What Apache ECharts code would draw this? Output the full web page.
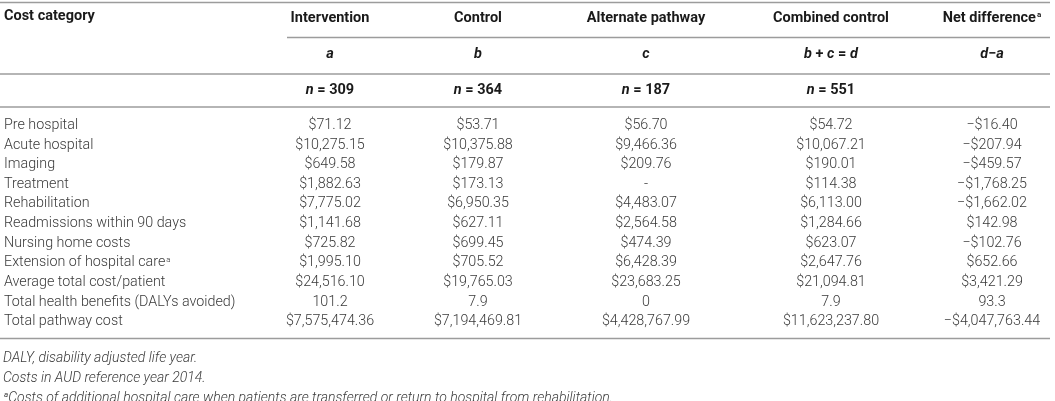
<!DOCTYPE html>
<html>
<head>
<meta charset="utf-8">
<script src="https://cdn.jsdelivr.net/npm/echarts@6/dist/echarts.min.js"></script>
<style>
  html, body { margin: 0; padding: 0; background: #fff; }
  #chart { width: 1055px; height: 401px; }
</style>
</head>
<body>
<div id="chart"></div>
<script>
// Table data
const COLUMNS = ['Intervention', 'Control', 'Alternate pathway', 'Combined control', 'Net difference']
const COLUMN_KEYS = ['a', 'b', 'c', 'b + c = d', 'd\u2212a']
const SAMPLE_SIZES = [309, 364, 187, 551, null]
const CATEGORIES = [
  'Pre hospital',
  'Acute hospital',
  'Imaging',
  'Treatment',
  'Rehabilitation',
  'Readmissions within 90 days',
  'Nursing home costs',
  'Extension of hospital care',
  'Average total cost/patient',
  'Total health benefits (DALYs avoided)',
  'Total pathway cost',
]
const INTERVENTION = [71.12, 10275.15, 649.58, 1882.63, 7775.02, 1141.68, 725.82, 1995.10, 24516.10, 101.2, 7575474.36]
const CONTROL = [53.71, 10375.88, 179.87, 173.13, 6950.35, 627.11, 699.45, 705.52, 19765.03, 7.9, 7194469.81]
const ALTERNATE = [56.70, 9466.36, 209.76, null, 4483.07, 2564.58, 474.39, 6428.39, 23683.25, 0, 4428767.99]
const COMBINED = [54.72, 10067.21, 190.01, 114.38, 6113.00, 1284.66, 623.07, 2647.76, 21094.81, 7.9, 11623237.80]
const NET_DIFF = [-16.40, -207.94, -459.57, -1768.25, -1662.02, 142.98, -102.76, 652.66, 3421.29, 93.3, -4047763.44]
const NOTE_ROWS = ['Extension of hospital care', 'Net difference']
const FOOTNOTES = [
  'DALY, disability adjusted life year.',
  'Costs in AUD reference year 2014.',
  '{sup|a}Costs of additional hospital care when patients are transferred or return to hospital from rehabilitation.',
]
const NON_CURRENCY_ROW = 'Total health benefits (DALYs avoided)'

const SERIES_VALUES = [INTERVENTION, CONTROL, ALTERNATE, COMBINED, NET_DIFF]

// layout
const COL_X = [330, 478, 646, 831, 992]
const FONT = 'Roboto, "Liberation Sans", sans-serif'
const BODY_COLOR = '#3a3a3a'
const HEAD_COLOR = '#1a1a1a'
const RULE_COLOR = '#9c9c9c'

function fmt(v, row) {
  if (v === null || v === undefined) return '-'
  if (CATEGORIES[row] === NON_CURRENCY_ROW) return v === 0 ? '0' : v.toFixed(1)
  const s = Math.abs(v).toLocaleString('en-US', { minimumFractionDigits: 2, maximumFractionDigits: 2 })
  return (v < 0 ? '\u2212$' : '$') + s
}

function withNote(name) {
  return NOTE_ROWS.indexOf(name) >= 0 ? name + '{sup|a}' : name
}

const supStyle = { fontSize: 8, verticalAlign: 'top', fontFamily: FONT, padding: [0, 0, 6, 1] }

const chart = echarts.init(document.getElementById('chart'), null, { renderer: 'canvas' })

// header rows: 0 = column names, 1 = formula keys, 2 = sample sizes
const HEADER_ROWS = ['name', 'key', 'n']

function headerText(row, c) {
  if (row === 0) return withNote(COLUMNS[c])
  if (row === 1) return COLUMN_KEYS[c].replace(/[a-z]/g, '{i|$&}')
  return SAMPLE_SIZES[c] === null ? '' : '{i|n} = ' + SAMPLE_SIZES[c]
}

const headerSeries = {
  type: 'custom',
  xAxisIndex: 0,
  yAxisIndex: 0,
  silent: true,
  data: HEADER_ROWS.flatMap((_, r) => COLUMNS.map((__, c) => [COL_X[c], r, c])),
  renderItem(params, api) {
    const r = api.value(1)
    const c = api.value(2)
    const pt = api.coord([api.value(0), r])
    return {
      type: 'text',
      x: pt[0],
      y: pt[1],
      style: {
        text: headerText(r, c),
        align: 'center',
        verticalAlign: 'middle',
        fontFamily: FONT,
        fontSize: 14.5,
        fontWeight: 'bold',
        fill: HEAD_COLOR,
        rich: {
          i: { fontFamily: FONT, fontSize: 14.5, fontWeight: 'bold', fontStyle: 'italic', fill: HEAD_COLOR },
          sup: Object.assign({ fontWeight: 'bold', fill: HEAD_COLOR }, supStyle),
        },
      },
    }
  },
}

const bodySeries = SERIES_VALUES.map((values, c) => ({
  type: 'custom',
  name: COLUMNS[c],
  xAxisIndex: 1,
  yAxisIndex: 1,
  silent: true,
  data: values.map((v, i) => [COL_X[c], i]),
  renderItem(params, api) {
    const row = api.value(1)
    const pt = api.coord([api.value(0), row])
    return {
      type: 'text',
      x: pt[0],
      y: pt[1],
      style: {
        text: fmt(values[row], row),
        align: 'center',
        verticalAlign: 'middle',
        fontFamily: FONT,
        fontSize: 14.3,
        fontWeight: 300,
        fill: BODY_COLOR,
      },
    }
  },
}))

const rule = (x1, y, x2) => ({
  type: 'line',
  shape: { x1: x1, y1: y, x2: x2, y2: y },
  style: { stroke: RULE_COLOR, lineWidth: 1.4 },
  silent: true,
})

const graphics = [
  rule(0, 2.5, 1050),
  rule(287, 37.5, 1050),
  rule(0, 74, 1050),
  rule(0, 107, 1050),
  rule(0, 338.5, 1050),
  {
    type: 'text',
    left: 4,
    top: 9,
    style: { text: 'Cost category', fontFamily: FONT, fontSize: 14.5, fontWeight: 'bold', fill: HEAD_COLOR },
  },
].concat(FOOTNOTES.map((t, i) => ({
  type: 'text',
  x: 3,
  y: 358 + i * 20,
  style: {
    text: t,
    verticalAlign: 'middle',
    fontFamily: FONT,
    fontSize: 14,
    fontWeight: 300,
    fontStyle: 'italic',
    fill: BODY_COLOR,
    rich: { sup: Object.assign({ fontStyle: 'italic', fill: BODY_COLOR }, supStyle) },
  },
})))

chart.setOption({
  animation: false,
  backgroundColor: '#ffffff',
  grid: [
    { left: 0, right: 0, top: -1, height: 110 },
    { left: 0, right: 0, top: 115.5, height: 216 },
  ],
  xAxis: [
    { gridIndex: 0, type: 'value', min: 0, max: 1055, show: false },
    { gridIndex: 1, type: 'value', min: 0, max: 1055, show: false },
  ],
  yAxis: [
    { gridIndex: 0, type: 'category', data: HEADER_ROWS, inverse: true, show: false },
    {
      gridIndex: 1,
      type: 'category',
      data: CATEGORIES,
      inverse: true,
      axisLine: { show: false },
      axisTick: { show: false },
      splitLine: { show: false },
      axisLabel: {
        inside: true,
        margin: 4,
        formatter: withNote,
        fontFamily: FONT,
        fontSize: 14.3,
        fontWeight: 300,
        color: BODY_COLOR,
        rich: { sup: Object.assign({ fill: BODY_COLOR, color: BODY_COLOR }, supStyle) },
      },
    },
  ],
  series: [headerSeries].concat(bodySeries),
  graphic: graphics,
})
</script>
</body>
</html>
